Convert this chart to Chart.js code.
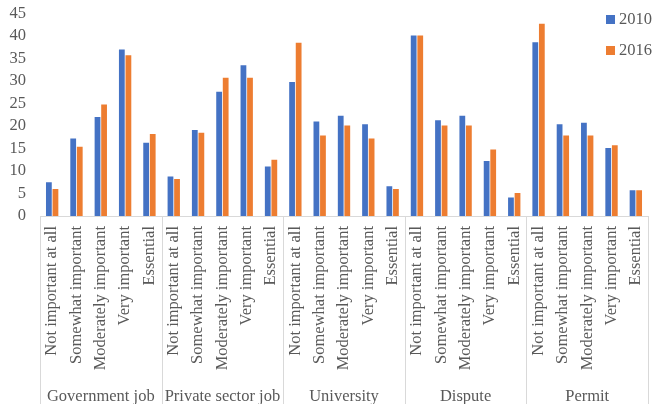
<!DOCTYPE html>
<html>
<head>
<meta charset="utf-8">
<script src="https://cdn.jsdelivr.net/npm/chart.js@4/dist/chart.umd.min.js"></script>
<style>
  body { margin: 0; background: #ffffff; }
</style>
</head>
<body>
<canvas id="chart" width="654" height="404"></canvas>
<script>
// data
const GROUPS = ['Government job', 'Private sector job', 'University', 'Dispute', 'Permit'];
const LEVELS = ['Not important at all', 'Somewhat important', 'Moderately important', 'Very important', 'Essential'];
const YEAR_LABELS = ['2010', '2016'];
const VALUES_2010 = [
    7.5, 17.2, 22.0, 37.0, 16.3,
    8.8, 19.1, 27.6, 33.5, 11.0,
    29.8, 21.0, 22.3, 20.4, 6.6,
    40.1, 21.3, 22.3, 12.2, 4.1,
    38.6, 20.4, 20.7, 15.1, 5.7
];
const VALUES_2016 = [
    6.0, 15.4, 24.8, 35.7, 18.2,
    8.2, 18.5, 30.7, 30.7, 12.5,
    38.5, 17.9, 20.1, 17.2, 6.0,
    40.1, 20.1, 20.1, 14.8, 5.1,
    42.7, 17.9, 17.9, 15.7, 5.7
];
const Y_MAX = 45;
const Y_STEP = 5;

const BLUE = '#4472C4';
const ORANGE = '#ED7D31';
const TEXT = '#595959';
const LINE = '#d9d9d9';
const FONT = "'Liberation Serif', 'Times New Roman', serif";

// one label per bar pair, levels repeated for every group
const categories = [];
GROUPS.forEach(() => LEVELS.forEach((l) => categories.push(l)));

// vertical lines between the groups, below the axis
const groupLines = {
    id: 'groupLines',
    afterDraw(chart) {
        const x = chart.scales.x;
        const ctx = chart.ctx;
        const half = (x.getPixelForValue(1) - x.getPixelForValue(0)) / 2;
        ctx.save();
        ctx.strokeStyle = LINE;
        ctx.lineWidth = 1;
        for (let g = 0; g <= GROUPS.length; g += 1) {
            const px = Math.round(x.getPixelForValue(g * LEVELS.length) - half) + 0.5;
            ctx.beginPath();
            ctx.moveTo(px, chart.chartArea.bottom);
            ctx.lineTo(px, chart.height);
            ctx.stroke();
        }
        ctx.restore();
    }
};

// legend sits over the top right of the plot
const cornerLegend = {
    id: 'cornerLegend',
    afterDraw(chart) {
        const ctx = chart.ctx;
        const left = chart.chartArea.right - 42;
        ctx.save();
        ctx.font = '16.5px ' + FONT;
        ctx.textBaseline = 'middle';
        chart.data.datasets.forEach((ds, i) => {
            const top = 15 + i * 31;
            ctx.fillStyle = ds.backgroundColor;
            ctx.fillRect(left, top, 9, 9);
            ctx.fillStyle = TEXT;
            ctx.fillText(ds.label, left + 13, top + 5);
        });
        ctx.restore();
    }
};

const noSidePadding = (scale) => {
    scale.paddingLeft = 0;
    scale.paddingRight = 0;
};

const ctx = document.getElementById('chart').getContext('2d');
const chart = new Chart(ctx, {
    type: 'bar',
    data: {
        labels: categories,
        datasets: [
            { label: YEAR_LABELS[0], data: VALUES_2010, backgroundColor: BLUE, xAxisID: 'x' },
            { label: YEAR_LABELS[1], data: VALUES_2016, backgroundColor: ORANGE, xAxisID: 'x' }
        ]
    },
    options: {
        responsive: false,
        animation: false,
        categoryPercentage: 0.54,
        barPercentage: 0.88,
        layout: { padding: { top: 13.5, right: 6, left: 0, bottom: 0 } },
        plugins: {
            legend: { display: false },
            tooltip: { enabled: false }
        },
        scales: {
            x: {
                position: 'bottom',
                grid: { display: false, drawTicks: false },
                border: { display: true, color: LINE },
                ticks: {
                    color: TEXT,
                    font: { family: FONT, size: 16.5 },
                    minRotation: 90,
                    maxRotation: 90,
                    autoSkip: false,
                    padding: 10
                },
                afterFit: (scale) => { scale.height = 160; noSidePadding(scale); }
            },
            x2: {
                type: 'category',
                position: 'bottom',
                labels: GROUPS,
                offset: true,
                grid: { display: false, drawTicks: false },
                border: { display: false },
                ticks: {
                    color: TEXT,
                    font: { family: FONT, size: 16.5 },
                    maxRotation: 0,
                    autoSkip: false,
                    padding: 11
                },
                afterFit: (scale) => { scale.height = 28; noSidePadding(scale); }
            },
            y: {
                min: 0,
                max: Y_MAX,
                grid: { display: false, drawTicks: false },
                border: { display: false },
                ticks: {
                    stepSize: Y_STEP,
                    autoSkip: false,
                    color: TEXT,
                    font: { family: FONT, size: 16.5 },
                    padding: 14
                },
                afterFit: (scale) => { scale.width = 40; scale.paddingTop = 0; scale.paddingBottom = 0; }
            }
        }
    },
    plugins: [groupLines, cornerLegend]
});
</script>
</body>
</html>
